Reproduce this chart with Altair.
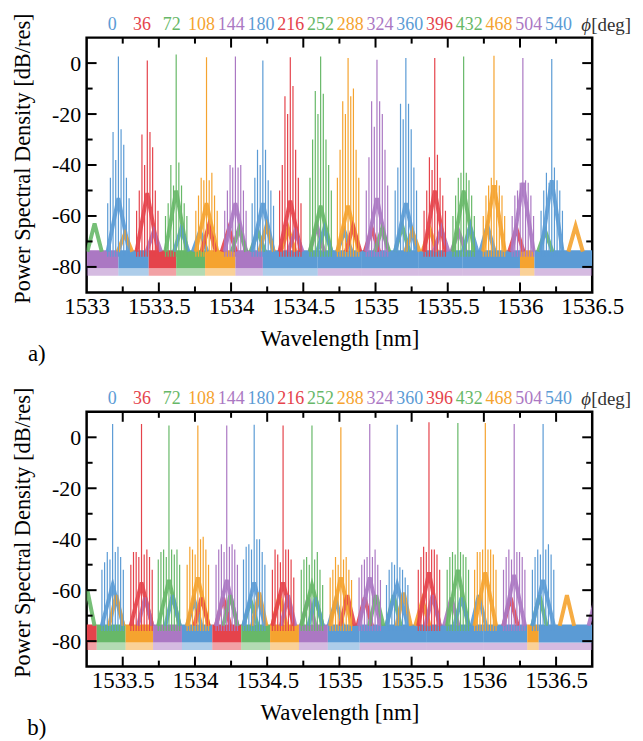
import altair as alt
import pandas as pd

FONT = "Liberation Serif"
PHI = [0, 36, 72, 108, 144, 180, 216, 252, 288, 324, 360, 396, 432, 468, 504, 540]
PHI_S = [str(p) for p in PHI]
PALETTE = ["#5b9bd5", "#e5434b", "#67b868", "#f5a32f", "#ab78c3"]
TRACE_COLORS = [PALETTE[i % 5] for i in range(len(PHI))]

# comb / spectral shape constants
COMB_STEP = 0.0185
SIDE_N = [-4, -3, -2, -1, 1, 2, 3, 4]
PED_HALF = 0.075
SAT_SHIFT = 0.565
SAT_HALF = 0.05
FOOT_DB = -74.0
LINE_FOOT_DB = -76.0
FLOOR_LO, FLOOR_HI = -80.5, -73.5
FUZZ_LO = -83.5

Y_DOMAIN = [-90, 10]
Y_LABELS = [-80, -60, -40, -20, 0]
Y_TICK_MAJOR = [-80, -60, -40, -20, 0]
Y_TICK_MINOR = [-70, -50, -30, -10]

# ---------------- panel a ----------------
A_XDOM = [1533.0, 1536.5]
A_XLABELS = [1533.0, 1533.5, 1534.0, 1534.5, 1535.0, 1535.5, 1536.0, 1536.5]
A_TICK_MAJOR = [1533.5, 1534.0, 1534.5, 1535.0, 1535.5, 1536.0]
A_TICK_MINOR = [1533.25, 1533.75, 1534.25, 1534.75, 1535.25, 1535.75, 1536.25]
A_CENTER = [1533.22, 1533.42, 1533.62, 1533.83, 1534.03, 1534.22, 1534.41, 1534.62,
            1534.81, 1535.01, 1535.21, 1535.41, 1535.61, 1535.82, 1536.02, 1536.22]
A_PEAK = [2.6, 1.0, 3.4, 2.3, 2.6, 1.0, 2.3, 2.6, 2.0, 1.3, 2.0, 2.0, 2.6, 2.9, 2.0, 1.6]
A_SIDE = [
    [-55, -45, -27, -38, -26, -32, -45, -53],
    [-58, -50, -28, -40, -27, -33, -50, -58],
    [-60, -55, -40, -48, -39, -48, -55, -60],
    [-58, -52, -45, -46, -46, -43, -52, -58],
    [-58, -50, -40, -41, -41, -40, -50, -58],
    [-55, -45, -34, -40, -34, -46, -50, -56],
    [-50, -40, -13, -20, -9, -34, -45, -55],
    [-45, -30, -11, -20, -12, -30, -40, -50],
    [-45, -34, -15, -20, -13, -10, -34, -45],
    [-50, -37, -15, -25, -15, -20, -34, -48],
    [-50, -41, -16, -22, -16, -26, -41, -50],
    [-58, -50, -37, -42, -36, -45, -52, -58],
    [-60, -52, -45, -43, -43, -46, -52, -60],
    [-60, -52, -48, -45, -46, -48, -52, -60],
    [-60, -52, -50, -47, -46, -47, -52, -60],
    [-58, -50, -43, -47, -41, -46, -50, -58],
]
A_PED = [-53, -51, -50, -55, -55, -55, -54, -56, -56, -53, -55, -50, -50, -48, -47, -46]
A_SAT_L = [-64, -65, -63, -67, -66, -65, -64, -65, -64, -66, -65, -64, -65, -66, -65, -64]
A_SAT_R = [-66, -65, -66, -65, -64, -66, -65, -64, -65, -66, -64, -65, -66, -64, -65, -66]
A_FLOOR_EDGE = [1533.0, 1533.22, 1533.43, 1533.62, 1533.82, 1534.03, 1534.22, 1534.6,
                1534.9, 1535.3, 1535.6, 1536.0, 1536.1, 1536.5]
A_FLOOR_PHI = ["504", "0", "36", "72", "108", "144", "180", "540", "540", "540", "540", "468", "540"]
A_FUZZ_PHI = ["504", "0", "36", "72", "108", "144", "180", "324", "504", "324", "504", "468", "504"]

# ---------------- panel b ----------------
B_XDOM = [1533.25, 1536.75]
B_XLABELS = [1533.5, 1534.0, 1534.5, 1535.0, 1535.5, 1536.0, 1536.5]
B_TICK_MAJOR = [1533.5, 1534.0, 1534.5, 1535.0, 1535.5, 1536.0, 1536.5]
B_TICK_MINOR = [1533.75, 1534.25, 1534.75, 1535.25, 1535.75, 1536.25]
B_CENTER = [1533.43, 1533.63, 1533.82, 1534.02, 1534.22, 1534.41, 1534.61, 1534.81,
            1535.01, 1535.21, 1535.40, 1535.62, 1535.82, 1536.01, 1536.21, 1536.41]
B_PEAK = [5.2, 5.2, 4.6, 4.6, 4.6, 4.9, 4.6, 4.6, 3.9, 5.2, 4.9, 5.9, 5.6, 5.6, 5.2, 5.2]
B_SIDE = [
    [-52, -49, -45, -48, -45, -43, -47, -52],
    [-50, -45, -45, -47, -46, -44, -47, -52],
    [-48, -45, -44, -47, -44, -46, -44, -50],
    [-50, -43, -44, -46, -40, -39, -44, -50],
    [-50, -44, -42, -45, -43, -42, -44, -50],
    [-48, -43, -42, -44, -40, -40, -45, -50],
    [-52, -44, -46, -49, -44, -44, -48, -55],
    [-52, -48, -47, -50, -48, -45, -52, -58],
    [-55, -52, -47, -50, -48, -47, -52, -56],
    [-55, -50, -48, -47, -47, -44, -50, -56],
    [-58, -52, -49, -50, -51, -52, -55, -58],
    [-52, -47, -43, -45, -44, -44, -46, -52],
    [-52, -47, -45, -46, -45, -46, -47, -52],
    [-52, -45, -45, -44, -44, -44, -46, -52],
    [-52, -47, -44, -48, -45, -45, -47, -52],
    [-52, -47, -44, -46, -44, -42, -46, -52],
]
B_PED = [-58, -57, -56, -55, -56, -57, -57, -58, -55, -55, -58, -53, -52, -53, -54, -56]
B_SAT_L = [-62, -62, -60, -62, -63, -62, -63, -62, -61, -62, -63, -62, -62, -61, -62, -63]
B_SAT_R = [-64, -63, -64, -62, -63, -64, -63, -62, -64, -63, -62, -63, -62, -62, -63, -64]
B_FLOOR_EDGE = [1533.25, 1533.32, 1533.52, 1533.71, 1533.91, 1534.12, 1534.32, 1534.52,
                1534.72, 1534.92, 1535.14, 1535.6, 1536.0, 1536.3, 1536.38, 1536.75]
B_FLOOR_PHI = ["36", "72", "108", "144", "180", "216", "252", "288", "324", "360",
               "540", "540", "540", "468", "540"]
B_FUZZ_PHI = ["36", "72", "108", "144", "180", "216", "252", "288", "324", "360",
              "504", "324", "504", "468", "504"]

W, H = 508, 256
color_scale = alt.Scale(domain=PHI_S, range=TRACE_COLORS)


def xenc(field, xdom, xlabels):
    return alt.X(field, type="quantitative",
                 scale=alt.Scale(domain=xdom, nice=False, zero=False),
                 axis=alt.Axis(values=xlabels, labelExpr="'' + datum.value", ticks=False,
                               domain=False, grid=False, labelFlush=False, labelOverlap=False,
                               labelPadding=3, labelFontSize=23, labelFont=FONT, labelColor="black",
                               title="Wavelength [nm]", titleFont=FONT, titleFontSize=23,
                               titleFontWeight="normal", titleColor="black", titleX=W / 2,
                               titleY=46, titleBaseline="middle", titleAlign="center"))


def yenc(field):
    return alt.Y(field, type="quantitative",
                 scale=alt.Scale(domain=Y_DOMAIN, nice=False, zero=False),
                 axis=alt.Axis(values=Y_LABELS, labelExpr="'' + datum.value", ticks=False,
                               domain=False, grid=False, labelOverlap=False, labelPadding=6,
                               labelFontSize=22, labelFont=FONT, labelColor="black",
                               title="Power Spectral Density [dB/res]", titleFont=FONT,
                               titleFontSize=22.5, titleFontWeight="normal", titleColor="black",
                               titleX=-64, titleY=121, titleAngle=270, titleBaseline="middle",
                               titleAlign="center"))


def panel(center, peak, side, ped, satl, satr, fedge, fphi, zphi, xdom, xlabels, tmaj, tmin,
          tag, lab_pad, lab_align):
    comb, shape, floor = [], [], []
    for k, c in enumerate(center):
        p = PHI_S[k]
        for n, h in zip(SIDE_N, side[k]):
            comb.append({"phi": p, "w": c + n * COMB_STEP, "top": h})
        comb.append({"phi": p, "w": c, "top": peak[k]})
        for key, mid, top, half in ((p + "p", c, ped[k], PED_HALF),
                                    (p + "L", c - SAT_SHIFT, satl[k], SAT_HALF),
                                    (p + "R", c + SAT_SHIFT, satr[k], SAT_HALF)):
            shape.append({"phi": p, "key": key, "o": 0, "w": mid - half, "v": FOOT_DB})
            shape.append({"phi": p, "key": key, "o": 1, "w": mid, "v": top})
            shape.append({"phi": p, "key": key, "o": 2, "w": mid + half, "v": FOOT_DB})
    for i, p in enumerate(fphi):
        floor.append({"phi": p, "zphi": zphi[i], "w0": fedge[i], "w1": fedge[i + 1]})
    comb_df, shape_df, floor_df = pd.DataFrame(comb), pd.DataFrame(shape), pd.DataFrame(floor)

    col = alt.Color("phi:N", scale=color_scale, legend=None)
    zcol = alt.Color("zphi:N", scale=color_scale, legend=None)
    X = lambda f: xenc(f, xdom, xlabels)

    fuzz = alt.Chart(floor_df).mark_rect(clip=True, opacity=0.5).encode(
        x=X("w0"), x2="w1", y=alt.datum(FUZZ_LO), y2=alt.datum(FLOOR_LO), color=zcol)
    band = alt.Chart(floor_df).mark_rect(clip=True).encode(
        x=X("w0"), x2="w1", y=alt.datum(FLOOR_LO), y2=alt.datum(FLOOR_HI), color=col)
    humps = alt.Chart(shape_df).mark_line(clip=True, strokeWidth=4, opacity=0.9).encode(
        x=X("w"), y=yenc("v"), detail="key:N", order="o:Q", color=col)
    lines = alt.Chart(comb_df).mark_rule(clip=True, strokeWidth=1.2).encode(
        x=X("w"), y=yenc("top"), y2=alt.datum(LINE_FOOT_DB), color=col)

    def hticks(vals, y0, y1):
        return alt.Chart(pd.DataFrame({"w": vals})).mark_rule(color="black", strokeWidth=2).encode(
            x=X("w"), y=alt.value(y0), y2=alt.value(y1))

    def vticks(vals, x0, x1):
        return alt.Chart(pd.DataFrame({"v": vals})).mark_rule(color="black", strokeWidth=2).encode(
            y=yenc("v"), x=alt.value(x0), x2=alt.value(x1))

    ticks = [hticks(tmaj, H, H - 10), hticks(tmin, H, H - 6),
             hticks(tmaj, 0, 10), hticks(tmin, 0, 6),
             vticks(Y_TICK_MAJOR, 0, 10), vticks(Y_TICK_MINOR, 0, 6),
             vticks(Y_TICK_MAJOR, W, W - 10), vticks(Y_TICK_MINOR, W, W - 6)]

    tag_txt = alt.Chart(pd.DataFrame({"t": [tag]})).mark_text(
        font=FONT, fontSize=23, align="center", baseline="middle", color="black").encode(
        x=alt.value(-50), y=alt.value(318), text="t:N")
    phi_sym = alt.Chart(pd.DataFrame({"t": ["ϕ"]})).mark_text(
        font=FONT, fontSize=19, fontStyle="italic", align="left", baseline="middle",
        color="#333333").encode(x=alt.value(497), y=alt.value(-13), text="t:N")
    deg_txt = alt.Chart(pd.DataFrame({"t": ["[deg]"]})).mark_text(
        font=FONT, fontSize=19, align="left", baseline="middle", color="#333333").encode(
        x=alt.value(507), y=alt.value(-13), text="t:N")

    inner = alt.layer(fuzz, band, humps, lines, *ticks, tag_txt, phi_sym, deg_txt)
    labels = alt.Chart(pd.DataFrame({"phi": PHI_S})).mark_text(
        font=FONT, fontSize=18, baseline="middle", align="center").encode(
        x=alt.X("phi:N", sort=PHI_S,
                scale=alt.Scale(type="point", padding=lab_pad, align=lab_align), axis=None),
        y=alt.value(-13), text="phi:N", color=col)
    return alt.layer(inner, labels).resolve_scale(x="independent").properties(width=W, height=H)


pa = panel(A_CENTER, A_PEAK, A_SIDE, A_PED, A_SAT_L, A_SAT_R, A_FLOOR_EDGE, A_FLOOR_PHI,
           A_FUZZ_PHI, A_XDOM, A_XLABELS, A_TICK_MAJOR, A_TICK_MINOR, "a)", 1.279, 0.432)
pb = panel(B_CENTER, B_PEAK, B_SIDE, B_PED, B_SAT_L, B_SAT_R, B_FLOOR_EDGE, B_FLOOR_PHI,
           B_FUZZ_PHI, B_XDOM, B_XLABELS, B_TICK_MAJOR, B_TICK_MINOR, "b)", 1.279, 0.432)

chart = alt.vconcat(pa, pb, spacing=17).properties(
    padding={"left": 2, "top": 1, "right": 2, "bottom": 0}, background="white"
).configure(font=FONT).configure_axis(labelFont=FONT, titleFont=FONT).configure_text(
    font=FONT).configure_view(stroke="black", strokeWidth=2.5)

chart.save("out.html", embed_options={"renderer": "svg", "actions": False})
